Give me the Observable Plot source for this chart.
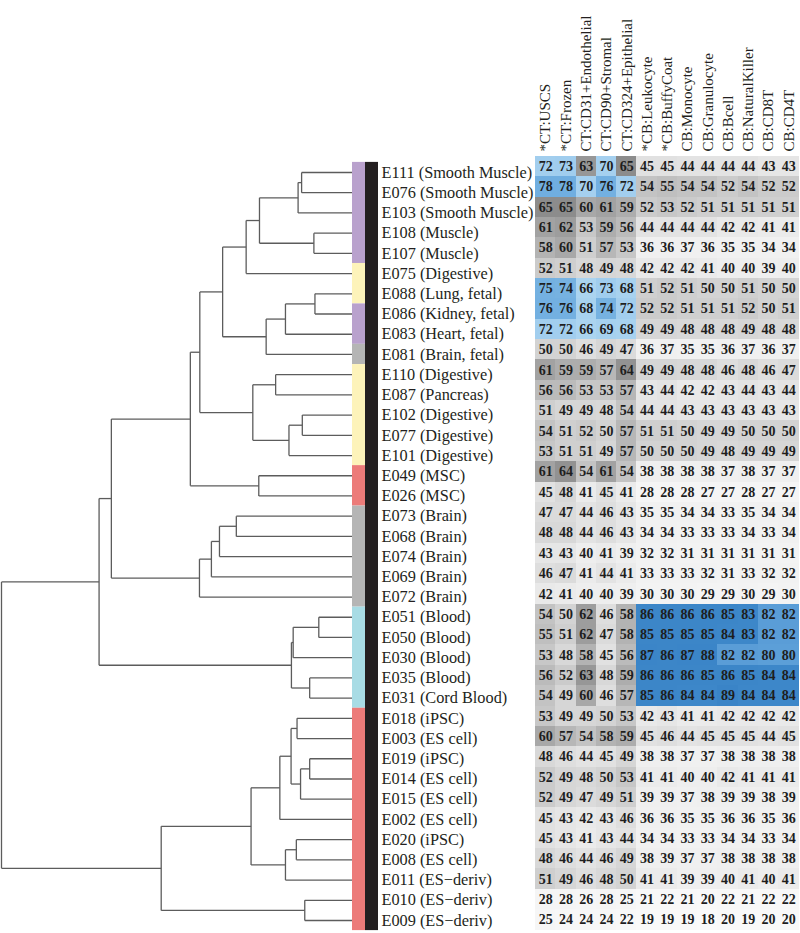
<!DOCTYPE html>
<html><head><meta charset="utf-8">
<script src="https://cdn.jsdelivr.net/npm/d3@7"></script>
<script src="https://cdn.jsdelivr.net/npm/@observablehq/plot@0.6"></script>
<style>
body{margin:0;background:#fff;}
#chart{position:relative;width:800px;height:933px;overflow:hidden;background:#fff;}
#chart svg{position:absolute;left:0;top:0;background:transparent;}
</style></head><body><div id="chart"></div>
<script>
// ---- data ----
const columns = ["*CT:USCS","*CT:Frozen","CT:CD31+Endothelial","CT:CD90+Stromal","CT:CD324+Epithelial",
  "*CB:Leukocyte","*CB:BuffyCoat","CB:Monocyte","CB:Granulocyte","CB:Bcell","CB:NaturalKiller","CB:CD8T","CB:CD4T"];

const rowLabels = ["E111 (Smooth Muscle)","E076 (Smooth Muscle)","E103 (Smooth Muscle)","E108 (Muscle)","E107 (Muscle)",
  "E075 (Digestive)","E088 (Lung, fetal)","E086 (Kidney, fetal)","E083 (Heart, fetal)","E081 (Brain, fetal)",
  "E110 (Digestive)","E087 (Pancreas)","E102 (Digestive)","E077 (Digestive)","E101 (Digestive)",
  "E049 (MSC)","E026 (MSC)","E073 (Brain)","E068 (Brain)","E074 (Brain)","E069 (Brain)","E072 (Brain)",
  "E051 (Blood)","E050 (Blood)","E030 (Blood)","E035 (Blood)","E031 (Cord Blood)",
  "E018 (iPSC)","E003 (ES cell)","E019 (iPSC)","E014 (ES cell)","E015 (ES cell)","E002 (ES cell)",
  "E020 (iPSC)","E008 (ES cell)","E011 (ES\u2212deriv)","E010 (ES\u2212deriv)","E009 (ES\u2212deriv)"];

const rowGroups = ["Muscle","Muscle","Muscle","Muscle","Muscle",
  "Digestive","Digestive","Muscle","Muscle","Brain",
  "Digestive","Digestive","Digestive","Digestive","Digestive",
  "Stem","Stem","Brain","Brain","Brain","Brain","Brain",
  "Blood","Blood","Blood","Blood","Blood",
  "Stem","Stem","Stem","Stem","Stem","Stem","Stem","Stem","Stem","Stem","Stem"];

const groupNames = ["Muscle","Digestive","Brain","Stem","Blood"];
const groupColors = ["#b9a1cd","#fdf3ba","#b5b5b5","#ec7b79","#a8dce5"];

const values = [
  [72,73,63,70,65,45,45,44,44,44,44,43,43],
  [78,78,70,76,72,54,55,54,54,52,54,52,52],
  [65,65,60,61,59,52,53,52,51,51,51,51,51],
  [61,62,53,59,56,44,44,44,44,42,42,41,41],
  [58,60,51,57,53,36,36,37,36,35,35,34,34],
  [52,51,48,49,48,42,42,42,41,40,40,39,40],
  [75,74,66,73,68,51,52,51,50,50,51,50,50],
  [76,76,68,74,72,52,52,51,51,51,52,50,51],
  [72,72,66,69,68,49,49,48,48,48,49,48,48],
  [50,50,46,49,47,36,37,35,35,36,37,36,37],
  [61,59,59,57,64,49,49,48,48,46,48,46,47],
  [56,56,53,53,57,43,44,42,42,43,44,43,44],
  [51,49,49,48,54,44,44,43,43,43,43,43,43],
  [54,51,52,50,57,51,51,50,49,49,50,50,50],
  [53,51,51,49,57,50,50,50,49,48,49,49,49],
  [61,64,54,61,54,38,38,38,38,37,38,37,37],
  [45,48,41,45,41,28,28,28,27,27,28,27,27],
  [47,47,44,46,43,35,35,34,34,33,35,34,34],
  [48,48,44,46,43,34,34,33,33,33,34,33,34],
  [43,43,40,41,39,32,32,31,31,31,31,31,31],
  [46,47,41,44,41,33,33,33,32,31,33,32,32],
  [42,41,40,40,39,30,30,30,29,29,30,29,30],
  [54,50,62,46,58,86,86,86,86,85,83,82,82],
  [55,51,62,47,58,85,85,85,85,84,83,82,82],
  [53,48,58,45,56,87,86,87,88,82,82,80,80],
  [56,52,63,48,59,86,86,86,85,86,85,84,84],
  [54,49,60,46,57,85,86,84,84,89,84,84,84],
  [53,49,49,50,53,42,43,41,41,42,42,42,42],
  [60,57,54,58,59,45,46,44,45,45,45,44,45],
  [48,46,44,45,49,38,38,37,37,38,38,38,38],
  [52,49,48,50,53,41,41,40,40,42,41,41,41],
  [52,49,47,49,51,39,39,37,38,39,39,38,39],
  [45,43,42,43,46,36,36,35,35,36,36,35,36],
  [45,43,41,43,44,34,34,33,33,34,34,33,34],
  [48,46,44,46,49,38,39,37,37,38,38,38,38],
  [51,49,46,48,50,41,41,39,39,40,41,40,41],
  [28,28,26,28,25,21,22,21,20,22,21,22,22],
  [25,24,24,24,22,19,19,19,18,20,19,20,20]
];

// dendrogram: [mergeHeight, child, child] ; leaves are sample ids (root height = 1)
const dendrogram =
  [1.0,
    [0.722,
      [0.687,
        [0.462,
          [0.435,
            [0.370,
              [0.303,
                [0.265, [0.155, [0.145, "E111", "E076"], "E103"], [0.110, "E108", "E107"]],
                "E075"],
              [0.246, [0.191, [0.107, "E088", "E086"], "E083"], "E081"]],
            [0.284, [0.219, "E110", "E087"], [0.181, [0.143, "E102", "E077"], "E101"]]],
          [0.267, "E049", "E026"]],
        [0.436, [0.402, [0.379, [0.331, "E073", "E068"], "E074"], "E069"], "E072"]],
      [0.174, [0.169, [0.096, "E051", "E050"], "E030"], [0.122, "E035", "E031"]]],
    [0.545,
      [0.289,
        [0.207, [0.175, [0.158, "E018", "E003"], [0.148, [0.122, "E019", "E014"], "E015"]], "E002"],
        [0.191, [0.160, "E020", "E008"], "E011"]],
      [0.136, "E010", "E009"]]];

// ---- derived ----
const ids = rowLabels.map(s => s.split(" ")[0]);
const idIndex = new Map(ids.map((s, i) => [s, i]));
const segments = [];
function layout(node) {
  if (typeof node === "string") return {h: 0, y: idIndex.get(node)};
  const [h, ...kids] = node;
  const ks = kids.map(layout);
  for (const k of ks) segments.push({x1: k.h, y1: k.y, x2: h, y2: k.y});
  segments.push({x1: h, y1: ks[0].y, x2: h, y2: ks[ks.length - 1].y});
  return {h, y: (ks[0].y + ks[ks.length - 1].y) / 2};
}
layout(dendrogram);

const runs = [];
rowGroups.forEach((g, i) => {
  const last = runs[runs.length - 1];
  if (last && last.group === g) last.end = i;
  else runs.push({group: g, start: i, end: i});
});

const n = ids.length;
const serif = "'Liberation Serif','Times New Roman',serif";

// ---- left part: dendrogram, strips, labels ----
const left = Plot.plot({
  width: 800, height: 933, margin: 0,
  style: {background: "transparent", fontFamily: serif},
  x: {domain: [0, 1], range: [352, 1], axis: null},
  y: {domain: [-0.5, n - 0.5], range: [161.9, 930.1], axis: null},
  color: {domain: groupNames, range: groupColors},
  marks: [
    Plot.link(segments, {x1: "x1", y1: "y1", x2: "x2", y2: "y2", stroke: "#5c5c5c", strokeWidth: 1.3}),
    Plot.rect(runs, {x1: 0, x2: 0, y1: d => d.start - 0.5, y2: d => d.end + 0.5, fill: "group", insetRight: -13}),
    Plot.rect([{start: 0, end: n - 1}], {x1: 0, x2: 0, y1: d => d.start - 0.5, y2: d => d.end + 0.5, fill: "#231f20", dx: 13, insetRight: -13}),
    Plot.text(rowLabels, {x: 0, y: (d, i) => i, text: d => d, dx: 29, textAnchor: "start",
      fontSize: 16.3, fontFamily: serif, fill: "#231f20"})
  ]
});

// ---- right part: heatmap ----
const cells = [];
values.forEach((row, i) => row.forEach((v, j) => cells.push({sample: ids[i], col: columns[j], value: v})));

const right = Plot.plot({
  width: 800, height: 933, marginTop: 154, marginLeft: 0, marginRight: 0, marginBottom: 0,
  style: {background: "transparent", fontFamily: serif, fontSize: "15px", color: "#231f20"},
  x: {domain: columns, range: [535, 798.5], padding: 0, round: false, axis: "top", tickRotate: -90, tickSize: 0, tickPadding: 3, label: null},
  y: {domain: ids, range: [155.8, 929.5], padding: 0, round: false, axis: null},
  color: {type: "linear",
    domain: [18, 40, 50, 58, 65, 66, 73, 74, 79, 80, 82, 83, 90],
    range: ["#fafafa","#eeeeee","#d3d3d3","#b3b3b3","#8c8c8c","#abd4f0","#a0cdee","#76b2e1","#6eade0","#5c9fd8","#5a9dd7","#3d87c9","#3a84c7"]},
  marks: [
    Plot.cell(cells, {x: "col", y: "sample", fill: "value", inset: 0, shapeRendering: "crispEdges"}),
    Plot.text(cells, {x: "col", y: "sample", text: "value", fontWeight: "bold", fontSize: 14, fontFamily: serif, fill: "#1e1e1e"})
  ]
});

const chart = document.getElementById("chart");
chart.append(left, right);
</script></body></html>
